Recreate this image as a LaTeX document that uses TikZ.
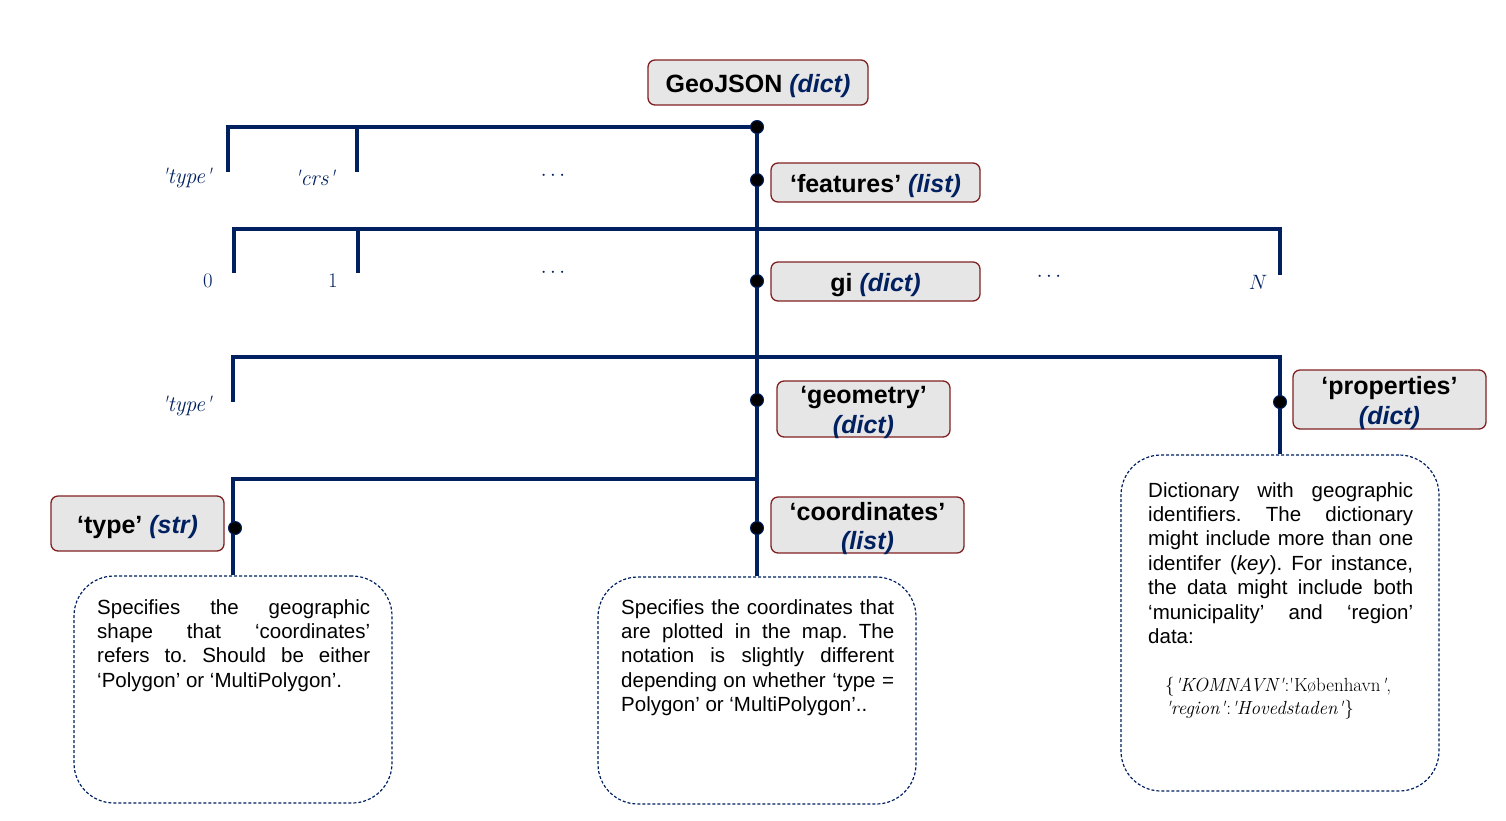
\documentclass[tikz,border=0pt]{standalone}
\usepackage{fontspec}
\newfontfamily\ars{Liberation Sans}
\definecolor{navy}{RGB}{0,32,96}
\definecolor{boxred}{RGB}{128,32,32}
\definecolor{boxfill}{RGB}{231,230,230}
\newcommand\ty[1]{{\color{navy}\itshape #1}}
\newcommand\sq{\textquotesingle}
\newcommand\wordlike{\frenchspacing\spaceskip=0.278em plus 1fil\relax\hyphenpenalty=10000\relax\exhyphenpenalty=10000\relax}
\newcommand\lastln{{\parfillskip=0pt plus 1fill\relax\par}}
\begin{document}
\begin{tikzpicture}[x=1pt,y=-1pt,
  conn/.style={draw=navy,line width=4.5pt},
  keybox/.style={draw=boxred,fill=boxfill,rounded corners=7pt,line width=1.3pt,inner sep=0pt},
  keytext/.style={inner sep=0pt,font=\ars\fontsize{25}{29.5}\selectfont\bfseries,align=center,yshift=-3.5pt},
  dot/.style={circle,fill=black,draw=navy,line width=1pt,minimum size=13pt,inner sep=0pt},
  descbox/.style={draw=navy,dash pattern=on 3pt off 2pt,line width=1.2pt,rounded corners=40pt,inner sep=0pt},
  desc/.style={font=\ars\fontsize{20.5}{24.4}\selectfont,align=justify,inner sep=0pt,anchor=north west},
  lab/.style={font=\fontsize{22}{24}\selectfont,text=navy,inner sep=0pt}
]
\useasboundingbox (0,0) rectangle (1506,820);

% key boxes
\node[keybox,minimum width=220pt,minimum height=45pt] (geo) at (758,82.5) {};
\node[keytext] (geot) at (geo.center) {GeoJSON \ty{(dict)}};
\node[keybox,minimum width=209pt,minimum height=39pt] (feat) at (875.5,182.5) {};
\node[keytext] (featt) at (feat.center) {‘features’ \ty{(list)}};
\node[keybox,minimum width=209pt,minimum height=39pt] (gi) at (875.5,281.5) {};
\node[keytext] (git) at (gi.center) {gi \ty{(dict)}};
\node[keybox,minimum width=173pt,minimum height=56pt] (geom) at (863.5,409) {};
\node[keytext] (geomt) at (geom.center) {‘geometry’\\\ty{(dict)}};
\node[keybox,minimum width=193pt,minimum height=59pt] (prop) at (1389.5,399.5) {};
\node[keytext] (propt) at (prop.center) {‘properties’\\\ty{(dict)}};
\node[keybox,minimum width=173pt,minimum height=55pt] (tstr) at (137.5,523.5) {};
\node[keytext] (tstrt) at (tstr.center) {‘type’ \ty{(str)}};
\node[keybox,minimum width=193pt,minimum height=56pt] (coord) at (867.5,525) {};
\node[keytext] (coordt) at (coord.center) {‘coordinates’\\\ty{(list)}};

% description boxes
\node[descbox,minimum width=318pt,minimum height=227pt] (lbox) at (233,689.5) {};
\node[descbox,minimum width=318pt,minimum height=227pt] (mbox) at (757,690.5) {};
\node[descbox,minimum width=318pt,minimum height=336pt] (rbox) at (1280,623) {};

\node[desc,text width=273pt] (ltext) at (97,599) {\wordlike Specifies the geographic shape that ‘coordinates’ refers to. Should be either ‘Polygon’ or ‘MultiPolygon’.\lastln};
\node[desc,text width=273pt] (mtext) at (621,599) {\wordlike Specifies the coordinates that are plotted in the map. The notation is slightly different depending on whether ‘type = Polygon’ or ‘MultiPolygon’..\lastln};
\node[desc,text width=265pt] (rtext) at (1148,482) {\wordlike Dictionary with geographic identifiers. The dictionary might include more than one identifer (\textit{key}). For instance, the data might include both ‘municipality’ and ‘region’ data:\lastln};
\node[font=\fontsize{19}{23}\selectfont,align=left,inner sep=0pt,anchor=north west] (form) at (1165,677) {\{\textit{\sq KOMNAVN\sq}:\sq København\textit{\sq},\\\textit{\sq region\sq}:\textit{\sq Hovedstaden\sq}\}};

% junction coordinates
\coordinate (t1) at (228,172);
\coordinate (c1) at (357,172);
\coordinate (z0) at (234,273);
\coordinate (z1) at (358,273);
\coordinate (h2r) at (1280,229);
\coordinate (nN) at (1280,275);
\coordinate (t3) at (233,402);
\coordinate (h3r) at (1280,357);
\coordinate (h4) at (757,479);

% dots (positions)
\coordinate (p0) at (757,127);
\coordinate (p1) at (757,180);
\coordinate (p2) at (757,281);
\coordinate (p3) at (757,400);
\coordinate (p4) at (757,528);
\coordinate (p5) at (1280,402);
\coordinate (p6) at (235,528);

% connectors
\draw[conn] (p0) -- (mbox.north);
\draw[conn] (t1) |- (p0);
\draw[conn] (c1) -- (c1 |- p0);
\draw[conn] (z0) |- (h2r) -- (nN);
\draw[conn] (z1) -- (z1 |- h2r);
\draw[conn] (t3) |- (h3r) -- (rbox.north);
\draw[conn] (lbox.north) |- (h4);

\foreach \p in {p0,p1,p2,p3,p4,p5,p6} \node[dot] (d\p) at (\p) {};

% labels
\node[lab] (lt1) at (187,178) {\textit{\sq type\sq}};
\node[lab] (lc1) at (315,178) {\textit{\sq crs\sq}};
\node[lab] (ld1) at (553,176) {$\cdots$};
\node[lab] (l0) at (208,281) {$0$};
\node[lab] (l1) at (333,281) {$1$};
\node[lab] (ld2) at (553,273) {$\cdots$};
\node[lab] (ld3) at (1049,277) {$\cdots$};
\node[lab] (lN) at (1258,282) {$N$};
\node[lab] (lt3) at (187,406) {\textit{\sq type\sq}};
\end{tikzpicture}
\end{document}
